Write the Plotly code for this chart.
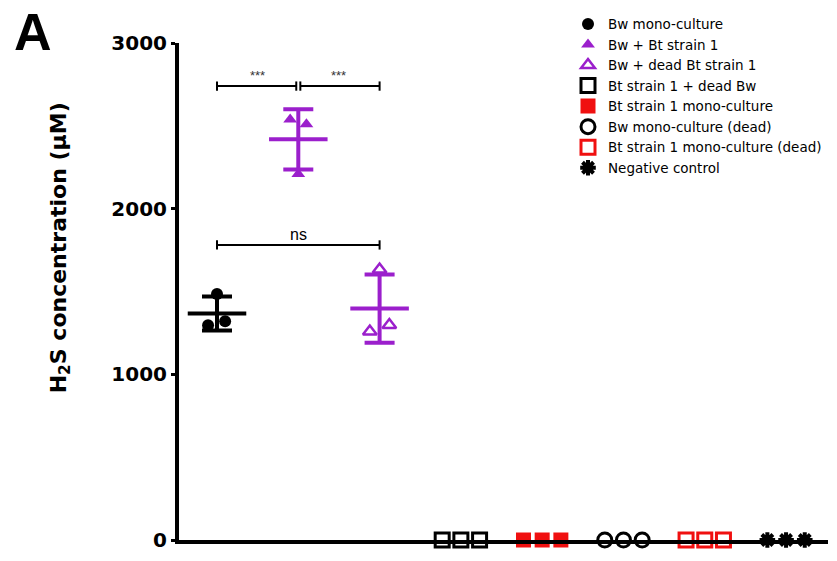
import numpy as np
import plotly.graph_objects as go

# ---- data ----
groups = ["Bw mono-culture", "Bw + Bt strain 1", "Bw + dead Bt strain 1",
          "Bt strain 1 + dead Bw", "Bt strain 1 mono-culture",
          "Bw mono-culture (dead)", "Bt strain 1 mono-culture (dead)",
          "Negative control"]
values = [
    [1296, 1485, 1320],
    [2538, 2209, 2509],
    [1259, 1633, 1298],
    [0, 0, 0],
    [0, 0, 0],
    [0, 0, 0],
    [0, 0, 0],
    [0, 0, 0],
]
jitter = [
    [-0.11, 0.0, 0.10],
    [-0.10, 0.0, 0.10],
    [-0.12, 0.0, 0.12],
    [-0.23, 0.0, 0.23],
    [-0.23, 0.0, 0.23],
    [-0.23, 0.0, 0.23],
    [-0.23, 0.0, 0.23],
    [-0.23, 0.0, 0.23],
]
brackets = [(0, 1, 2740, "***"), (1, 2, 2740, "***"), (0, 2, 1781, "ns")]
yticks = [0, 1000, 2000, 3000]

# ---- styles ----
PURPLE = "#9B1FCC"
RED = "#F01010"
styles = [
    dict(symbol="circle", color="black", line=dict(width=0), size=12),
    dict(symbol="triangle-up", color=PURPLE, line=dict(width=0), size=12),
    dict(symbol="triangle-up-open", color=PURPLE, line=dict(width=2.5, color=PURPLE), size=12),
    dict(symbol="square-open", color="black", line=dict(width=3, color="black"), size=14),
    dict(symbol="square", color=RED, line=dict(width=0), size=15),
    dict(symbol="circle-open", color="black", line=dict(width=3, color="black"), size=14),
    dict(symbol="square-open", color=RED, line=dict(width=3, color=RED), size=14),
    dict(symbol="asterisk-open", color="black", line=dict(width=4, color="black"), size=13),
]
bar_colors = ["black", PURPLE, PURPLE, "black", RED, "black", RED, "black"]

fig = go.Figure()

for i, (g, v) in enumerate(zip(groups, values)):
    xs = [i + j for j in jitter[i]]
    fig.add_trace(go.Scatter(x=xs, y=v, mode="markers", name=g,
                             marker=styles[i], cliponaxis=False, showlegend=True))

# mean / SD
for i, v in enumerate(values):
    m = float(np.mean(v))
    sd = float(np.std(v, ddof=1))
    if sd == 0:
        continue
    c = bar_colors[i]
    fig.add_trace(go.Scatter(x=[i - 0.36, i + 0.36], y=[m, m], mode="lines",
                             line=dict(color=c, width=4), showlegend=False, hoverinfo="skip"))
    fig.add_trace(go.Scatter(x=[i], y=[m], mode="markers", marker=dict(size=1, color=c),
                             error_y=dict(type="data", array=[sd], visible=True,
                                          thickness=4, width=15, color=c),
                             showlegend=False, hoverinfo="skip"))

# significance brackets
for a, b, yv, lab in brackets:
    gap = 0.025 if lab == "***" else 0.0
    xa = a + (gap if a == 1 else 0)
    xb = b - (gap if b == 1 else 0)
    fig.add_trace(go.Scatter(x=[xa, xa, None, xa, xb, None, xb, xb],
                             y=[yv - 28, yv + 28, None, yv, yv, None, yv - 28, yv + 28],
                             mode="lines", line=dict(color="black", width=2),
                             showlegend=False, hoverinfo="skip"))
    fig.add_annotation(x=(a + b) / 2, y=yv, text=lab, showarrow=False, yanchor="bottom",
                       yshift=1 if lab == "***" else 0,
                       font=dict(family="Arial, Liberation Sans", size=13 if lab == "***" else 16,
                                 color="#333" if lab == "***" else "black"))

L, R, T, B = 179, 9, 40, 15
W, H = 837, 561
fig.update_layout(
    width=W, height=H,
    margin=dict(l=L, r=R, t=T, b=B),
    paper_bgcolor="white", plot_bgcolor="white",
    font=dict(family="Arial, Liberation Sans", color="black"),
    showlegend=True,
    legend=dict(x=(568 - L) / (W - L - R), y=(H - B - 5) / (H - T - B), xanchor="left", yanchor="top",
                font=dict(family="DejaVu Sans", size=13.5, color="black"),
                bgcolor="rgba(0,0,0,0)", itemsizing="trace", tracegroupgap=0),
    xaxis=dict(range=[-0.4675, 7.516], showline=True, linewidth=4, linecolor="black",
               showticklabels=False, ticks="", showgrid=False, zeroline=False),
    yaxis=dict(range=[0, 3000], tickvals=yticks, showline=True, linewidth=4, linecolor="black",
               ticks="outside", ticklen=4, tickwidth=3, tickcolor="black",
               tickfont=dict(family="DejaVu Sans", size=20, color="black", weight="bold"),
               showgrid=False, zeroline=False),
)

def px_x(p):
    return (p - L) / (W - L - R)

def px_y(p):
    return (H - B - p) / (H - T - B)

fig.add_annotation(xref="paper", yref="paper", x=px_x(60), y=px_y(248), xanchor="center", yanchor="middle",
                   text="H<sub>2</sub>S concentration (μM)", textangle=-90, showarrow=False,
                   font=dict(family="DejaVu Sans", size=22, color="black", weight="bold"))
fig.add_annotation(xref="paper", yref="paper", x=px_x(33), y=px_y(29), xanchor="center", yanchor="middle",
                   text="A", showarrow=False,
                   font=dict(family="Arial, Liberation Sans", size=52, color="black", weight="bold"))

fig.write_html("out.html")
